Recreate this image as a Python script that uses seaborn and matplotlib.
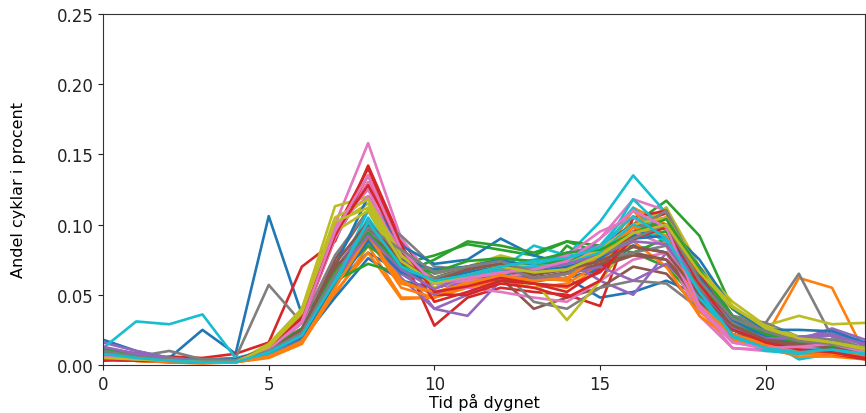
import matplotlib
matplotlib.use("Agg")
import matplotlib.pyplot as plt
import seaborn as sns
import pandas as pd

hours = list(range(24))

s00 = [0.018,0.010,0.005,0.025,0.008,0.106,0.036,0.058,0.080,0.066,0.058,0.062,0.070,0.060,0.062,0.048,0.052,0.060,0.050,0.022,0.015,0.012,0.012,0.006]
s01 = [0.006,0.004,0.003,0.002,0.002,0.006,0.018,0.050,0.085,0.048,0.048,0.056,0.060,0.058,0.055,0.070,0.112,0.100,0.045,0.025,0.020,0.062,0.055,0.008]
s02 = [0.012,0.008,0.005,0.003,0.004,0.010,0.022,0.062,0.098,0.072,0.078,0.086,0.082,0.078,0.088,0.080,0.100,0.117,0.092,0.040,0.022,0.015,0.012,0.008]
s03 = [0.003,0.004,0.006,0.005,0.008,0.016,0.070,0.088,0.142,0.088,0.060,0.065,0.068,0.060,0.062,0.068,0.100,0.108,0.060,0.030,0.018,0.012,0.008,0.005]
s04 = [0.016,0.010,0.005,0.003,0.003,0.008,0.020,0.060,0.090,0.070,0.040,0.050,0.060,0.065,0.070,0.080,0.095,0.090,0.050,0.030,0.020,0.018,0.025,0.015]
s05 = [0.008,0.005,0.003,0.002,0.003,0.010,0.025,0.075,0.110,0.078,0.062,0.070,0.075,0.068,0.072,0.078,0.085,0.080,0.055,0.030,0.020,0.016,0.012,0.010]
s06 = [0.006,0.004,0.003,0.002,0.003,0.012,0.032,0.100,0.158,0.090,0.060,0.060,0.065,0.065,0.072,0.090,0.118,0.110,0.040,0.012,0.010,0.012,0.014,0.008]
s07 = [0.010,0.006,0.010,0.004,0.005,0.057,0.030,0.078,0.110,0.092,0.070,0.068,0.072,0.066,0.070,0.075,0.088,0.112,0.060,0.035,0.030,0.065,0.020,0.012]
s08 = [0.005,0.004,0.003,0.002,0.002,0.014,0.040,0.113,0.120,0.082,0.065,0.070,0.078,0.072,0.075,0.085,0.098,0.112,0.070,0.045,0.028,0.035,0.029,0.030]
s09 = [0.012,0.031,0.029,0.036,0.005,0.010,0.025,0.055,0.100,0.072,0.062,0.064,0.070,0.075,0.078,0.102,0.135,0.108,0.060,0.030,0.018,0.004,0.008,0.010]
s10 = [0.010,0.006,0.004,0.002,0.002,0.008,0.018,0.048,0.076,0.060,0.055,0.060,0.065,0.060,0.062,0.068,0.085,0.080,0.058,0.028,0.016,0.012,0.010,0.008]
s11 = [0.004,0.003,0.002,0.001,0.002,0.005,0.015,0.052,0.080,0.047,0.048,0.055,0.060,0.055,0.058,0.072,0.105,0.090,0.040,0.018,0.012,0.006,0.006,0.004]
s12 = [0.008,0.005,0.003,0.002,0.003,0.010,0.025,0.060,0.072,0.065,0.060,0.062,0.060,0.058,0.085,0.070,0.080,0.070,0.045,0.025,0.015,0.010,0.008,0.006]
s13 = [0.004,0.003,0.002,0.002,0.003,0.010,0.030,0.090,0.130,0.080,0.028,0.048,0.055,0.052,0.050,0.042,0.105,0.110,0.050,0.025,0.015,0.010,0.008,0.005]
s14 = [0.010,0.006,0.004,0.003,0.002,0.008,0.020,0.065,0.095,0.062,0.040,0.035,0.060,0.070,0.075,0.060,0.050,0.080,0.045,0.022,0.016,0.020,0.018,0.012]
s15 = [0.006,0.004,0.003,0.002,0.002,0.009,0.024,0.068,0.098,0.070,0.055,0.060,0.062,0.040,0.048,0.055,0.070,0.065,0.040,0.022,0.015,0.012,0.010,0.006]
s16 = [0.005,0.004,0.003,0.002,0.003,0.010,0.030,0.090,0.130,0.080,0.058,0.055,0.052,0.048,0.045,0.060,0.075,0.080,0.035,0.012,0.011,0.010,0.012,0.006]
s17 = [0.009,0.006,0.004,0.003,0.003,0.010,0.022,0.062,0.085,0.070,0.060,0.065,0.068,0.045,0.040,0.055,0.060,0.058,0.040,0.030,0.030,0.020,0.018,0.012]
s18 = [0.006,0.004,0.003,0.002,0.002,0.015,0.040,0.100,0.115,0.075,0.058,0.062,0.068,0.060,0.032,0.060,0.090,0.098,0.060,0.040,0.025,0.020,0.015,0.010]
s19 = [0.008,0.005,0.004,0.002,0.002,0.010,0.022,0.060,0.110,0.070,0.058,0.060,0.068,0.085,0.078,0.080,0.118,0.095,0.055,0.020,0.010,0.008,0.010,0.008]
s20 = [0.012,0.008,0.005,0.003,0.004,0.012,0.026,0.070,0.120,0.085,0.072,0.075,0.090,0.078,0.072,0.085,0.100,0.100,0.070,0.035,0.022,0.020,0.022,0.015]
s21 = [0.006,0.004,0.003,0.002,0.002,0.006,0.016,0.058,0.090,0.055,0.048,0.060,0.068,0.062,0.060,0.080,0.110,0.085,0.038,0.020,0.014,0.008,0.008,0.006]
s22 = [0.010,0.006,0.004,0.002,0.003,0.010,0.024,0.065,0.090,0.065,0.075,0.088,0.085,0.080,0.088,0.085,0.080,0.090,0.055,0.028,0.018,0.014,0.012,0.008]
s23 = [0.005,0.004,0.003,0.002,0.003,0.012,0.035,0.095,0.140,0.085,0.050,0.050,0.058,0.055,0.048,0.060,0.100,0.105,0.055,0.025,0.015,0.010,0.008,0.005]
s24 = [0.012,0.008,0.005,0.003,0.003,0.009,0.022,0.068,0.100,0.070,0.058,0.070,0.072,0.070,0.080,0.085,0.098,0.100,0.050,0.028,0.020,0.018,0.026,0.018]
s25 = [0.007,0.005,0.003,0.002,0.003,0.010,0.024,0.070,0.090,0.068,0.060,0.066,0.072,0.060,0.065,0.070,0.078,0.075,0.050,0.028,0.018,0.014,0.012,0.010]
s26 = [0.006,0.004,0.003,0.002,0.003,0.011,0.030,0.098,0.125,0.075,0.055,0.062,0.065,0.070,0.078,0.095,0.105,0.090,0.045,0.018,0.012,0.014,0.016,0.010]
s27 = [0.010,0.007,0.005,0.003,0.003,0.010,0.024,0.065,0.100,0.080,0.065,0.070,0.075,0.068,0.070,0.080,0.095,0.110,0.065,0.035,0.025,0.018,0.015,0.010]
s28 = [0.005,0.004,0.003,0.002,0.002,0.012,0.035,0.095,0.110,0.070,0.055,0.062,0.070,0.068,0.070,0.080,0.092,0.095,0.065,0.040,0.028,0.020,0.016,0.012]
s29 = [0.008,0.005,0.003,0.002,0.002,0.008,0.020,0.058,0.095,0.068,0.060,0.064,0.070,0.072,0.075,0.085,0.112,0.090,0.050,0.020,0.012,0.010,0.012,0.008]
s30 = [0.010,0.006,0.004,0.003,0.003,0.010,0.022,0.060,0.100,0.075,0.068,0.070,0.075,0.070,0.068,0.080,0.092,0.098,0.075,0.040,0.025,0.025,0.024,0.016]
s31 = [0.005,0.004,0.003,0.002,0.002,0.006,0.017,0.060,0.095,0.060,0.050,0.058,0.062,0.060,0.065,0.075,0.088,0.070,0.035,0.018,0.012,0.008,0.007,0.005]
s32 = [0.010,0.006,0.004,0.003,0.003,0.010,0.024,0.062,0.085,0.068,0.062,0.068,0.072,0.070,0.075,0.078,0.090,0.095,0.060,0.030,0.020,0.015,0.012,0.008]
s33 = [0.004,0.003,0.003,0.002,0.003,0.011,0.032,0.092,0.135,0.082,0.045,0.052,0.060,0.058,0.052,0.068,0.095,0.100,0.065,0.028,0.016,0.010,0.008,0.004]
s34 = [0.011,0.007,0.004,0.003,0.003,0.008,0.020,0.062,0.088,0.065,0.050,0.062,0.068,0.060,0.065,0.070,0.060,0.072,0.050,0.026,0.018,0.020,0.022,0.014]
s35 = [0.007,0.005,0.003,0.002,0.003,0.009,0.024,0.068,0.095,0.072,0.058,0.064,0.068,0.062,0.066,0.072,0.080,0.075,0.045,0.025,0.016,0.014,0.012,0.008]
s36 = [0.006,0.004,0.003,0.002,0.003,0.011,0.030,0.100,0.120,0.078,0.058,0.060,0.062,0.066,0.070,0.085,0.095,0.085,0.040,0.016,0.012,0.012,0.014,0.008]
s37 = [0.009,0.006,0.004,0.003,0.003,0.010,0.022,0.062,0.095,0.078,0.062,0.068,0.070,0.062,0.065,0.075,0.080,0.085,0.055,0.030,0.022,0.016,0.014,0.010]
s38 = [0.005,0.004,0.003,0.002,0.002,0.013,0.038,0.105,0.118,0.078,0.060,0.065,0.072,0.070,0.072,0.082,0.100,0.105,0.068,0.042,0.026,0.018,0.016,0.012]
s39 = [0.008,0.005,0.003,0.002,0.002,0.008,0.021,0.058,0.105,0.070,0.058,0.062,0.068,0.070,0.072,0.080,0.100,0.088,0.048,0.020,0.012,0.008,0.010,0.008]
s40 = [0.009,0.006,0.004,0.002,0.003,0.009,0.020,0.056,0.088,0.066,0.060,0.066,0.070,0.066,0.070,0.076,0.090,0.092,0.062,0.032,0.020,0.016,0.014,0.010]
s41 = [0.005,0.003,0.002,0.002,0.002,0.006,0.016,0.055,0.092,0.058,0.052,0.058,0.064,0.060,0.062,0.078,0.098,0.092,0.042,0.022,0.015,0.010,0.008,0.006]
s42 = [0.011,0.007,0.005,0.003,0.003,0.011,0.026,0.066,0.094,0.070,0.066,0.074,0.076,0.074,0.080,0.082,0.094,0.104,0.068,0.034,0.022,0.016,0.013,0.009]
s43 = [0.004,0.003,0.003,0.002,0.003,0.012,0.034,0.094,0.128,0.084,0.052,0.056,0.062,0.058,0.056,0.066,0.090,0.098,0.058,0.026,0.016,0.011,0.009,0.005]
s44 = [0.013,0.008,0.005,0.003,0.003,0.009,0.021,0.064,0.092,0.068,0.054,0.064,0.070,0.068,0.072,0.078,0.088,0.086,0.052,0.027,0.019,0.019,0.021,0.015]
s45 = [0.007,0.005,0.003,0.002,0.003,0.010,0.025,0.072,0.102,0.074,0.060,0.068,0.072,0.064,0.068,0.074,0.084,0.080,0.050,0.028,0.018,0.015,0.012,0.009]
s46 = [0.006,0.004,0.003,0.002,0.003,0.011,0.031,0.095,0.135,0.082,0.058,0.062,0.066,0.068,0.074,0.090,0.110,0.098,0.042,0.016,0.012,0.013,0.015,0.009]
s47 = [0.010,0.006,0.004,0.003,0.003,0.010,0.023,0.064,0.098,0.082,0.066,0.070,0.074,0.066,0.068,0.078,0.090,0.100,0.060,0.033,0.024,0.017,0.015,0.011]
s48 = [0.005,0.004,0.003,0.002,0.002,0.013,0.037,0.102,0.112,0.074,0.058,0.064,0.070,0.066,0.068,0.078,0.094,0.100,0.066,0.041,0.027,0.019,0.016,0.011]
s49 = [0.008,0.005,0.003,0.002,0.002,0.009,0.021,0.060,0.102,0.070,0.060,0.064,0.070,0.074,0.076,0.084,0.106,0.090,0.052,0.021,0.012,0.009,0.011,0.008]

series = [s00, s01, s02, s03, s04, s05, s06, s07, s08, s09,
          s10, s11, s12, s13, s14, s15, s16, s17, s18, s19,
          s20, s21, s22, s23, s24, s25, s26, s27, s28, s29,
          s30, s31, s32, s33, s34, s35, s36, s37, s38, s39,
          s40, s41, s42, s43, s44, s45, s46, s47, s48, s49]

x_label = "Tid på dygnet"
y_label = "Andel cyklar i procent"

rows = []
for i, s in enumerate(series):
    for h, v in zip(hours, s):
        rows.append({"serie": i, "timme": h, "andel": v})
df = pd.DataFrame(rows)

tab10 = sns.color_palette("tab10", 10)
palette = {i: tab10[i % 10] for i in range(len(series))}

fig = plt.figure(figsize=(8.66, 4.14), dpi=100)
ax = fig.add_axes([0.119, 0.116, 0.880, 0.848])
sns.lineplot(data=df, x="timme", y="andel", hue="serie", palette=palette,
             legend=False, linewidth=1.9, ax=ax, estimator=None)

ax.set_xlim(0, 23)
ax.set_ylim(0, 0.25)
ax.set_xticks([0, 5, 10, 15, 20])
ax.set_yticks([0.0, 0.05, 0.10, 0.15, 0.20, 0.25])
ax.set_yticklabels(["0.00", "0.05", "0.10", "0.15", "0.20", "0.25"])
ax.tick_params(labelsize=12, colors="#222222")
ax.set_xlabel(x_label, fontsize=11.5, labelpad=0)
ax.set_ylabel(y_label, fontsize=11.5, labelpad=22)
for sp in ax.spines.values():
    sp.set_color("#333333")

fig.savefig("out.png", dpi=100)
